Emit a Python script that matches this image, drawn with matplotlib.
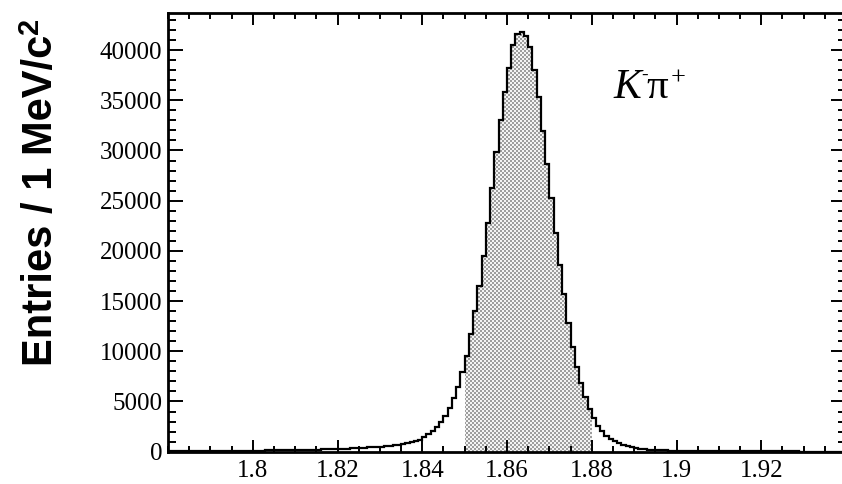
import numpy as np
import matplotlib
matplotlib.use("Agg")
import matplotlib.pyplot as plt
from matplotlib.ticker import MultipleLocator, FixedLocator, FuncFormatter

# -----------------------
# data: K- pi+ invariant mass, 1 MeV bins from 1.78 to 1.94 GeV/c^2
# -----------------------
m_lo = 1.78
bin_w = 0.001
counts = [
    # 1.780 - 1.800
    40, 42, 44, 46, 48, 50, 52, 55, 58, 60, 63, 66, 70, 74, 78, 82, 86, 90, 95, 100,
    # 1.800 - 1.820
    105, 110, 115, 120, 126, 132, 138, 145, 152, 160,
    168, 176, 185, 195, 205, 215, 226, 238, 250, 262,
    # 1.820 - 1.840
    275, 290, 305, 322, 340, 380, 400, 425, 450, 480,
    515, 555, 600, 650, 705, 770, 850, 945, 1060, 1200,
    # 1.840 - 1.860
    1420, 1720, 2080, 2500, 3000, 3600, 4350, 5300, 6400, 7900,
    9500, 11700, 14000, 16500, 19500, 22800, 26300, 29900, 33000, 35850,
    # 1.860 - 1.880
    38250, 40500, 41650, 41800, 41450, 40350, 38000, 35350, 31900, 28700,
    25250, 21750, 18600, 15700, 12800, 10450, 8450, 6850, 5450, 4300,
    # 1.880 - 1.900
    3350, 2600, 2030, 1600, 1270, 1020, 820, 660, 540, 440,
    365, 305, 255, 215, 185, 160, 140, 122, 108, 96,
    # 1.900 - 1.920
    86, 78, 71, 65, 60, 56, 52, 49, 46, 43,
    41, 39, 37, 35, 33, 32, 30, 29, 28, 27,
    # 1.920 - 1.940
    26, 25, 24, 23, 22, 22, 21, 20, 20, 19,
    18, 18, 17, 17, 16, 16, 15, 15, 14, 14,
]
sel_lo, sel_hi = 1.85, 1.88          # signal window (shaded)

x_major = [1.80, 1.82, 1.84, 1.86, 1.88, 1.90, 1.92]

counts = np.array(counts, dtype=float)
edges = m_lo + bin_w * np.arange(len(counts) + 1)
i_lo = int(round((sel_lo - m_lo) / bin_w))
i_hi = int(round((sel_hi - m_lo) / bin_w))

# -----------------------
# style
# -----------------------
plt.rcParams['font.family'] = ['Liberation Serif', 'DejaVu Serif']

W, H = 842, 484
fig = plt.figure(figsize=(W / 100, H / 100), dpi=100, facecolor='white')
ax = fig.add_axes([168 / W, 32.3 / H, 678 / W, 439 / H])
ax.set_facecolor('none')

# shaded window: clip path for the checker texture
win = ax.stairs(counts[i_lo:i_hi], edges[i_lo:i_hi + 1], fill=True,
                facecolor='none', edgecolor='none', lw=0)

# checkerboard like ROOT fill style, in figure pixels
yy, xx = np.mgrid[0:H, 0:W]
chk = ((xx // 2 + yy // 2) % 2).astype(bool)
img = np.ones((H, W, 3))
img[chk] = 0.62
img[~chk] = 0.96
fimg = fig.figimage(img, 0, 0, zorder=-1)
fimg.set_clip_path(win)

# histogram outline
ax.stairs(counts, edges, color='black', lw=1.6)

ax.set_xlim(1.78, 1.94)
ax.set_ylim(0, 43725)

for s in ax.spines.values():
    s.set_linewidth(2.0)

ax.xaxis.set_major_locator(FixedLocator(x_major))
ax.xaxis.set_minor_locator(MultipleLocator(0.005))
ax.xaxis.set_major_formatter(FuncFormatter(lambda v, p: '%g' % round(v, 3)))
ax.yaxis.set_major_locator(MultipleLocator(5000))
ax.yaxis.set_minor_locator(MultipleLocator(1000))
ax.yaxis.set_major_formatter(FuncFormatter(lambda v, p: '%d' % v))

ax.tick_params(which='both', direction='in', top=True, right=True, width=1.4,
               labelsize=18)
ax.tick_params(axis='x', which='major', length=8.5, pad=6)
ax.tick_params(axis='x', which='minor', length=4.5)
ax.tick_params(axis='y', which='major', length=11, pad=4)
ax.tick_params(axis='y', which='minor', length=5.5)

# y title (ROOT style, bold sans)
fig.text(41 / W, 1 - 200 / H, 'Entries / 1 MeV/c', rotation=90,
         ha='center', va='center', fontsize=30, fontweight='bold',
         family='Liberation Sans')
fig.text(30 / W, 1 - 26 / H, '2', rotation=90, ha='center', va='center',
         fontsize=21, fontweight='bold', family='Liberation Sans')

# decay channel label K- pi+, pieces placed one after another
r = fig.canvas.get_renderer()
x0, base = 613, H - 98
tK = fig.text(x0 / W, base / H, 'K', fontsize=30, style='italic',
              ha='left', va='baseline')
xK = tK.get_window_extent(r).x1
fig.text((xK + 0.5) / W, (base + 18) / H, '-', fontsize=14,
         ha='left', va='baseline')
tp = fig.text((xK + 6) / W, base / H, '\u03c0', fontsize=31,
              ha='left', va='baseline')
xp = tp.get_window_extent(r).x1
fig.text((xp + 2) / W, (base + 13) / H, '+', fontsize=19,
         ha='left', va='baseline')

fig.savefig('out.png', dpi=100)
